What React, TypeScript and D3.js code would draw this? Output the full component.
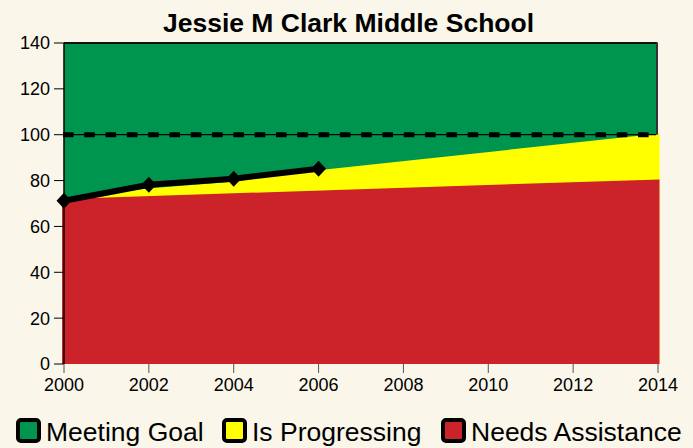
import React from "react";
import * as d3 from "d3";

const title = "Jessie M Clark Middle School";
const yTicks = [0, 20, 40, 60, 80, 100, 120, 140];
const xTicks = [2000, 2002, 2004, 2006, 2008, 2010, 2012, 2014];

// Needs Assistance (red) upper boundary
const needsYears = [2000, 2014];
const needsTop = [72, 80.5];
// Is Progressing (yellow) upper boundary
const progYears = [2000, 2002, 2004, 2006, 2014];
const progTop = [72, 76.5, 79.5, 84.5, 100.5];
// Actual score line
const actualYears = [2000, 2002, 2004, 2006];
const actualValues = [71.2, 78.2, 80.8, 85.2];
const goal = 100;

const legendItems = [
  { label: "Meeting Goal", color: "#00954f" },
  { label: "Is Progressing", color: "#ffff00" },
  { label: "Needs Assistance", color: "#cc2229" },
];

const W = 693;
const H = 448;
const FONT = "'Liberation Sans', Arial, sans-serif";

export default function App() {
  const x = d3.scaleLinear().domain([2000, 2014]).range([64, 658]);
  const xa = x.copy().range([62, 659.5]);
  const y = d3.scaleLinear().domain([0, 140]).range([364, 43]);

  const redArea = d3
    .area<number>()
    .x((_, i) => xa(needsYears[i]))
    .y0(y(0))
    .y1((d) => y(d))(needsTop);
  const yellowArea = d3
    .area<number>()
    .x((_, i) => xa(progYears[i]))
    .y0(y(0))
    .y1((d) => y(d))(progTop);
  const line = d3
    .line<number>()
    .x((_, i) => x(actualYears[i]))
    .y((d) => y(d))(actualValues);

  const legendX = [16, 222, 441];
  const legendTextX = [46, 252, 471];

  return (
    <svg
      width={W}
      height={H}
      style={{ position: "absolute", left: 0, top: 0, background: "#faf6e9" }}
    >
      <rect x={0} y={0} width={W} height={H} fill="#faf6e9" />
      <text
        x={348.5}
        y={32}
        textAnchor="middle"
        fontFamily={FONT}
        fontWeight="bold"
        fontSize={26.5}
        fill="#000"
      >
        {title}
      </text>
      {/* Meeting Goal background */}
      <rect
        x={x(2000)}
        y={y(140)}
        width={x(2014) - x(2000) - 1}
        height={y(0) - y(140)}
        fill="#00954f"
      />
      <path d={yellowArea || ""} fill="#ffff00" />
      <path d={redArea || ""} fill="#cc2229" />
      {/* frame top/right */}
      <line x1={x(2000)} x2={x(2014) - 0.5} y1={y(140)} y2={y(140)} stroke="#111" strokeWidth={2} />
      <line x1={x(2014) - 1} x2={x(2014) - 1} y1={y(140)} y2={y(goal)} stroke="#333" strokeWidth={2} />
      {/* goal line */}
      <line x1={x(2000)} x2={x(2014) - 2} y1={y(goal)} y2={y(goal)} stroke="#000" strokeWidth={1.2} />
      <line
        x1={x(2000) - 1}
        x2={x(2014) - 6}
        y1={y(goal)}
        y2={y(goal)}
        stroke="#000"
        strokeWidth={5}
        strokeDasharray="10.5 10.8"
      />
      {/* actual line */}
      <path d={line || ""} fill="none" stroke="#000" strokeWidth={6} strokeLinejoin="round" />
      {actualValues.map((v, i) => {
        const cx = x(actualYears[i]);
        const cy = y(v);
        const r = 8;
        return (
          <path
            key={i}
            d={`M${cx},${cy - r}L${cx + r - 0.5},${cy}L${cx},${cy + r}L${cx - r + 0.5},${cy}Z`}
            fill="#000"
          />
        );
      })}
      {/* y axis */}
      <line x1={x(2000)} x2={x(2000)} y1={y(140)} y2={y(0)} stroke="#000" strokeWidth={1.5} />
      {yTicks.map((t) => (
        <g key={t}>
          <line x1={54} x2={x(2000)} y1={y(t)} y2={y(t)} stroke="#000" strokeWidth={1} />
          <text
            x={50}
            y={y(t)}
            dy="0.36em"
            textAnchor="end"
            fontFamily={FONT}
            fontSize={18}
            fill="#000"
          >
            {t}
          </text>
        </g>
      ))}
      {/* x axis */}
      {xTicks.map((t) => (
        <g key={t}>
          <line x1={x(t)} x2={x(t)} y1={y(0)} y2={y(0) + 9} stroke="#555" strokeWidth={1} />
          <text
            x={x(t)}
            y={391}
            textAnchor="middle"
            fontFamily={FONT}
            fontSize={18}
            fill="#000"
          >
            {t}
          </text>
        </g>
      ))}
      {/* legend */}
      {legendItems.map((it, i) => (
        <g key={it.label}>
          <rect
            x={legendX[i] + 2}
            y={420}
            width={21}
            height={21}
            rx={3}
            fill={it.color}
            stroke="#000"
            strokeWidth={4}
          />
          <text
            x={legendTextX[i]}
            y={441}
            fontFamily={FONT}
            fontSize={26.5}
            fill="#000"
          >
            {it.label}
          </text>
        </g>
      ))}
    </svg>
  );
}
